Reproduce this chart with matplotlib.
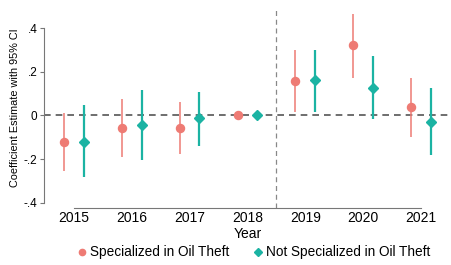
import matplotlib
matplotlib.use("Agg")
import matplotlib.pyplot as plt
import numpy as np
from matplotlib.lines import Line2D

plt.rcParams['font.family'] = ['Liberation Sans', 'DejaVu Sans']

years = [2015, 2016, 2017, 2018, 2019, 2020, 2021]
spec_coef = [-0.123, -0.058, -0.058, 0.0, 0.158, 0.322, 0.038]
spec_lo = [-0.257, -0.190, -0.176, 0.0, 0.018, 0.173, -0.097]
spec_hi = [0.010, 0.077, 0.061, 0.0, 0.299, 0.468, 0.172]
nspec_coef = [-0.120, -0.043, -0.012, 0.0, 0.161, 0.127, -0.028]
nspec_lo = [-0.284, -0.204, -0.138, 0.0, 0.018, -0.015, -0.181]
nspec_hi = [0.046, 0.118, 0.110, 0.0, 0.302, 0.271, 0.127]
yticks = [-0.4, -0.2, 0.0, 0.2, 0.4]
ytick_labels = ['-.4', '-.2', '0', '.2', '.4']

red = '#EE7B74'
teal = '#1BB3A3'

fig = plt.figure(figsize=(4.51, 2.65), dpi=100)
ax = fig.add_axes([0.097, 0.215, 0.903, 0.76])

x = np.array(years, dtype=float)
off = 0.17
ax.axhline(0, color='#555555', lw=1.2, ls=(0, (4, 3)), zorder=1)
ax.axvline(2018.5, color='#888888', lw=0.9, ls=(0, (4, 3)), zorder=1)

ax.vlines(x - off, spec_lo, spec_hi, color=red, lw=1.1, zorder=2)
ax.plot(x - off, spec_coef, 'o', color=red, ms=5.8, zorder=3)
ax.vlines(x + off, nspec_lo, nspec_hi, color=teal, lw=1.6, zorder=2)
ax.plot(x + off, nspec_coef, 'D', color=teal, ms=5, zorder=3)

ax.set_xlim(2014.48, 2021.52)
ax.set_ylim(-0.425, 0.5)
ax.set_yticks(yticks)
ax.set_yticklabels(ytick_labels)
ax.set_xticks(years)
ax.spines['top'].set_visible(False)
ax.spines['right'].set_visible(False)
for s in ['left', 'bottom']:
    ax.spines[s].set_color('#777777')
    ax.spines[s].set_linewidth(0.8)
ax.spines['left'].set_bounds(-0.4, 0.4)
ax.spines['bottom'].set_bounds(2015, 2021)
ax.tick_params(axis='y', labelsize=8.5, length=3, width=0.8, color='#777777', pad=1.5)
ax.tick_params(axis='x', labelsize=10, length=0, pad=2)
ax.set_ylabel('Coefficient Estimate with 95% CI', fontsize=7.8, labelpad=3)
ax.set_xlabel('Year', fontsize=10, labelpad=1.5)

handles = [Line2D([], [], marker='o', color=red, ls='', ms=4.5),
           Line2D([], [], marker='D', color=teal, ls='', ms=4)]
fig.legend(handles, ['Specialized in Oil Theft', 'Not Specialized in Oil Theft'],
           loc='center', bbox_to_anchor=(0.56, 0.048), ncol=2, frameon=False,
           fontsize=9.8, handletextpad=0.1, columnspacing=1.6, handlelength=1.0)

fig.savefig('out.png', dpi=100)
